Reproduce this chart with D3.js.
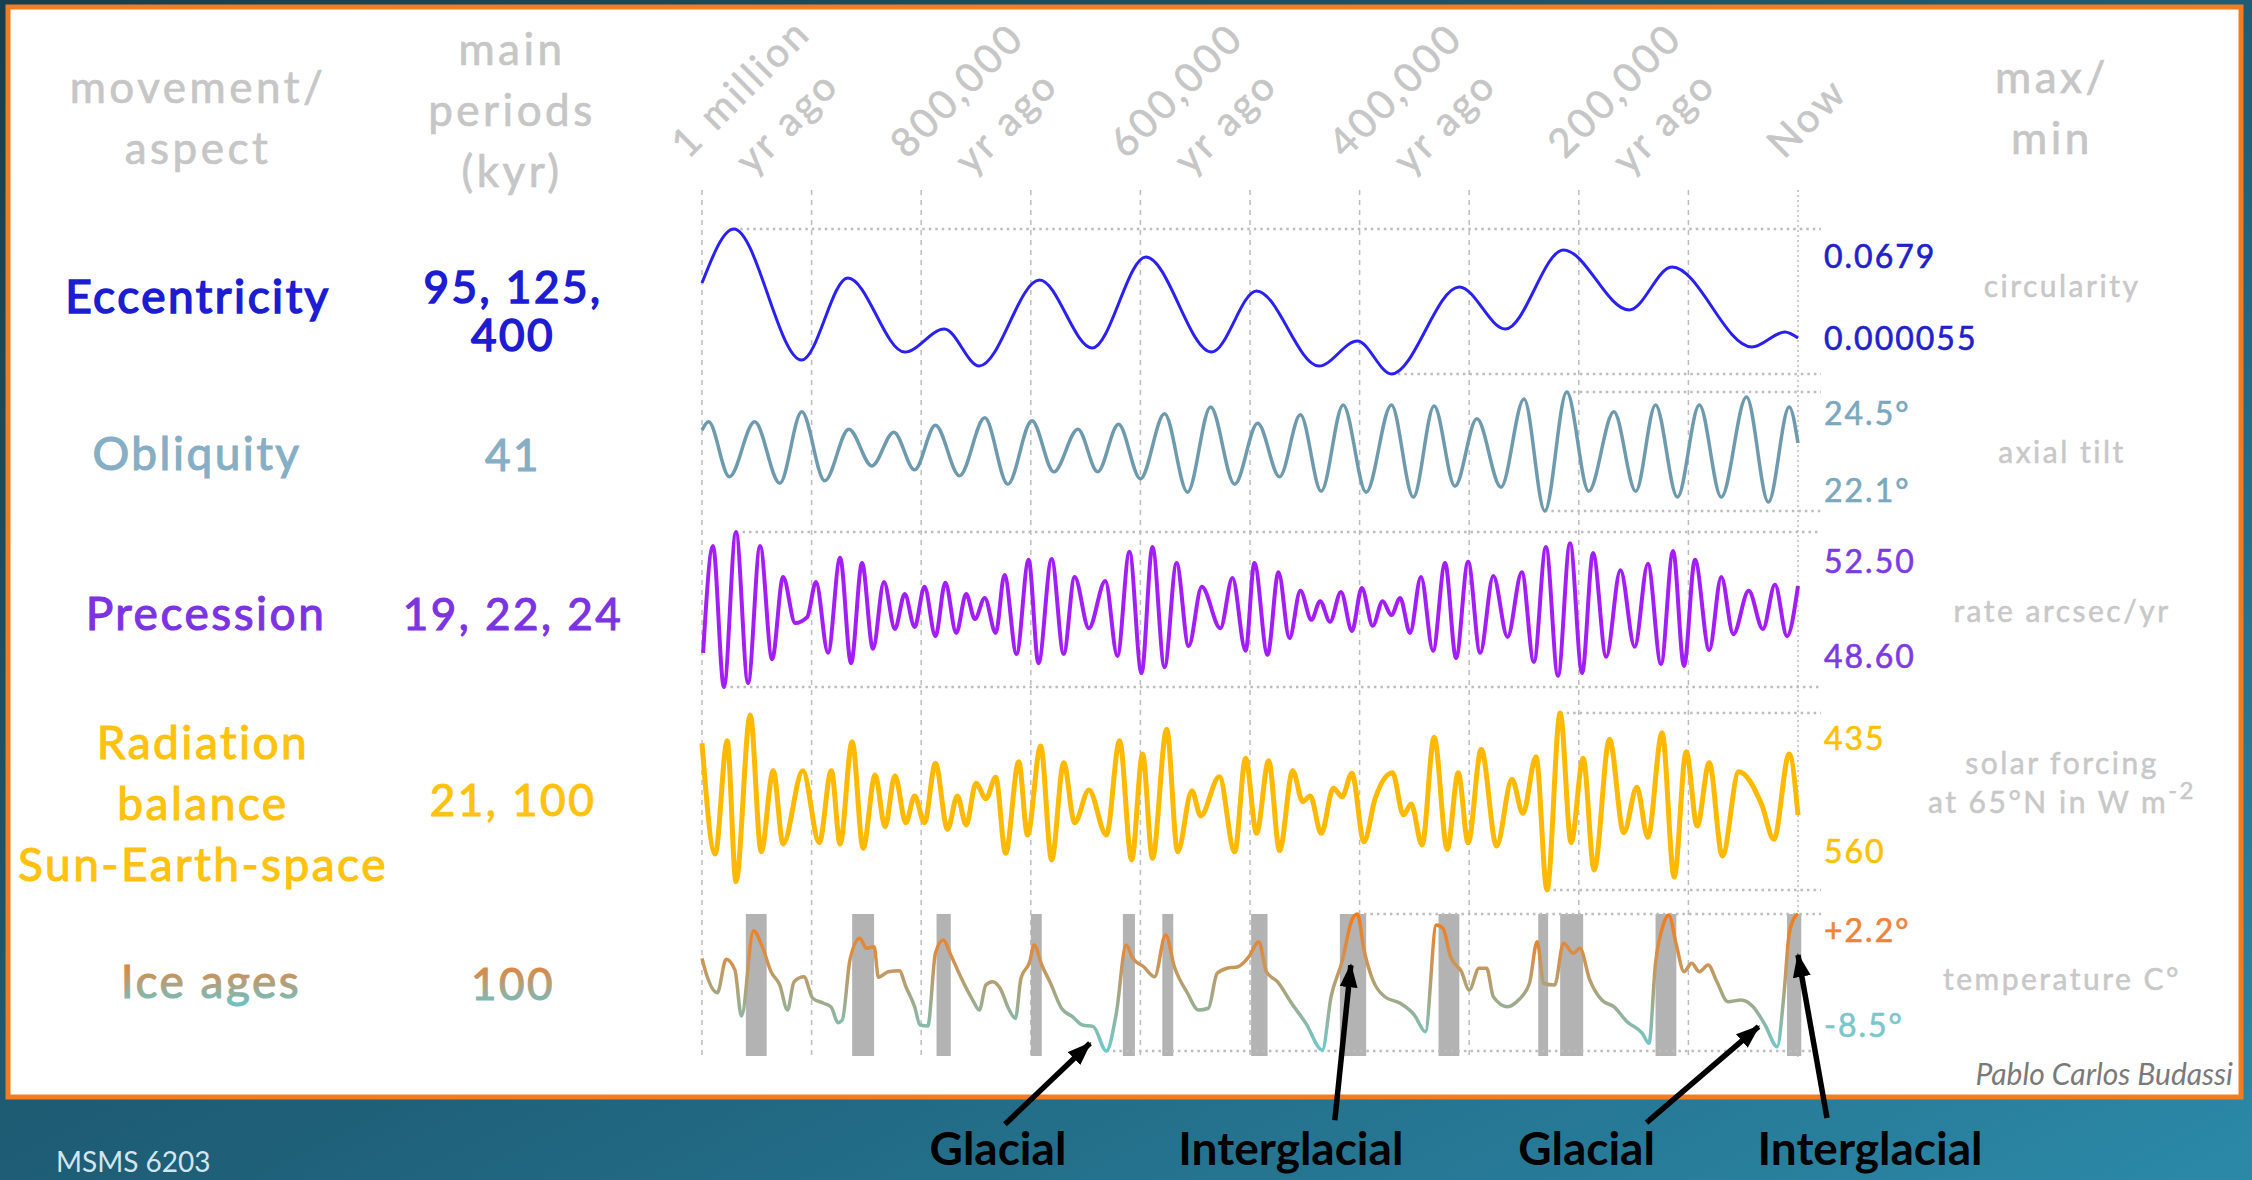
<!DOCTYPE html>
<html>
<head>
<meta charset="utf-8">
<script src="https://cdn.jsdelivr.net/npm/d3@7"></script>
<style>
  html, body { margin: 0; padding: 0; overflow: hidden; background: #1f5b70; }
  svg { display: block; }
  text { font-family: Lato, "Open Sans", sans-serif; }
</style>
</head>
<body>
<svg id="chart" width="2252" height="1180"></svg>
<script>
// ---- data (ages in kyr before present) ----
const timeLabelAges = [1000, 800, 600, 400, 200, 0];
const timeLabels = [["1 million", "yr ago"], ["800,000", "yr ago"], ["600,000", "yr ago"], ["400,000", "yr ago"], ["200,000", "yr ago"], ["Now"]];

const rowNames = [["Eccentricity"], ["Obliquity"], ["Precession"], ["Radiation", "balance", "Sun-Earth-space"], ["Ice ages"]];
const rowPeriods = [["95, 125,", "400"], ["41"], ["19, 22, 24"], ["21, 100"], ["100"]];
const rowMaxLabels = ["0.0679", "24.5°", "52.50", "435", "+2.2°"];
const rowMinLabels = ["0.000055", "22.1°", "48.60", "560", "-8.5°"];
const rowUnits = [["circularity"], ["axial tilt"], ["rate arcsec/yr"], ["solar forcing", "at 65°N in W m"], ["temperature C°"]];

const eccAge = [1000, 971, 909, 867, 815, 779, 747, 692, 644, 595, 535, 494, 437, 402, 371, 309, 267, 214, 154, 115, 42, 12, 0];
const eccValue = [0.0426, 0.0679, 0.0066, 0.0450, 0.0103, 0.0211, 0.0038, 0.0440, 0.0122, 0.0548, 0.0103, 0.0389, 0.0038, 0.0155, 0.000055, 0.0408, 0.0211, 0.0581, 0.0300, 0.0501, 0.0127, 0.0197, 0.0169];

const oblAge = [1000, 994, 975, 952, 929, 909, 888, 866, 845, 825, 806, 787, 765, 742, 721, 699, 679, 657, 639, 620,
  600, 578, 557, 536, 514, 493, 473, 454, 435, 415, 394, 371, 351, 332, 313, 293, 271, 250, 231, 211,
  191, 168, 148, 130, 110, 90, 70, 47, 27, 8, 0];
const oblValue = [23.73, 23.90, 22.79, 23.90, 22.66, 24.10, 22.71, 23.75, 23.01, 23.69, 22.93, 23.83, 22.81, 23.98, 22.64, 23.92, 22.89, 23.75, 22.89, 23.85,
  22.75, 24.06, 22.48, 24.20, 22.64, 23.87, 22.79, 24.04, 22.50, 24.24, 22.48, 24.24, 22.38, 24.22, 22.60, 23.96, 22.58, 24.36, 22.10, 24.50,
  22.50, 24.10, 22.50, 24.24, 22.38, 24.24, 22.38, 24.40, 22.28, 24.20, 23.47];

const precAge = [999, 990, 980, 969, 958, 947, 936, 926, 915, 904, 896, 885, 874, 864, 854, 844, 834, 824, 815, 806,
  797, 787, 778, 768, 759, 751, 742, 732, 724, 713, 702, 693, 681, 670, 660, 647, 632, 621, 610, 599,
  589, 578, 567, 556, 544, 527, 516, 504, 496, 484, 474, 464, 454, 444, 436, 427, 417, 407, 398, 388,
  379, 371, 363, 354, 344, 333, 322, 312, 301, 290, 278, 265, 252, 241, 230, 219, 208, 197, 187, 175,
  162, 149, 137, 125, 114, 104, 94, 81, 70, 59, 45, 32, 21, 10, 0];
const precValue = [49.46, 52.15, 48.60, 52.50, 48.70, 52.15, 49.30, 51.37, 50.21, 50.36, 51.24, 49.46, 51.85, 49.20, 51.72, 49.56, 51.24, 50.06, 50.94, 50.11,
  51.12, 49.88, 51.22, 49.96, 50.94, 50.31, 50.84, 49.96, 51.42, 49.43, 51.80, 49.20, 51.82, 49.43, 51.37, 50.08, 51.27, 49.38, 52.00, 48.95,
  52.12, 49.10, 51.72, 49.63, 51.12, 50.08, 51.34, 49.51, 51.72, 49.41, 51.49, 49.83, 51.02, 50.29, 50.76, 50.24, 50.99, 50.01, 51.09, 50.14,
  50.76, 50.41, 50.84, 49.96, 51.37, 49.51, 51.72, 49.33, 51.75, 49.46, 51.39, 49.86, 51.49, 49.23, 52.12, 48.88, 52.22, 48.95, 51.97, 49.36,
  51.54, 49.61, 51.70, 49.18, 52.02, 49.13, 51.80, 49.53, 51.37, 49.93, 51.02, 50.06, 51.17, 49.88, 51.14];

const radAge = [1000, 988, 977, 969, 956, 946, 935, 926, 908, 893, 882, 874, 863, 853, 842, 833, 824, 814, 806, 797,
  787, 776, 767, 759, 750, 741, 732, 723, 711, 703, 691, 681, 670, 660, 647, 631, 619, 608, 598, 589,
  576, 566, 553, 545, 528, 514, 504, 494, 483, 473, 461, 452, 445, 435, 424, 416, 407, 396, 386, 370,
  360, 353, 343, 332, 320, 310, 301, 289, 275, 261, 251, 239, 229, 217, 207, 196, 186, 172, 159, 147,
  137, 124, 113, 102, 92, 81, 69, 54, 33, 22, 8, 0];
const radValue = [456.4, 534.6, 454.6, 554.1, 436.4, 533.0, 475.7, 527.5, 475.7, 526.6, 475.7, 527.5, 455.3, 530.5, 478.8, 515.3, 479.3, 512.5, 493.6, 512.5,
  470.5, 517.1, 493.6, 514.1, 484.6, 495.5, 480.4, 534.1, 469.4, 521.2, 458.3, 538.8, 470.1, 512.5, 489.4, 521.2, 454.6, 538.8, 464.0, 537.6,
  446.5, 533.0, 489.9, 507.7, 480.0, 533.0, 467.0, 520.0, 468.7, 532.2, 475.7, 497.6, 493.6, 520.0, 488.2, 494.1, 477.6, 525.9, 495.9, 477.2,
  507.0, 499.3, 528.2, 452.2, 531.3, 477.2, 526.6, 460.6, 528.9, 481.8, 505.8, 465.9, 560.0, 435.0, 526.6, 467.0, 545.9, 453.6, 519.5, 487.5,
  522.8, 448.9, 551.0, 462.3, 514.8, 470.1, 536.0, 476.5, 500.0, 524.2, 464.0, 507.0];

const tempAge = [1000, 998, 986, 978, 970, 964, 953, 945, 937, 929, 922, 916, 907, 899, 889, 882, 876, 872, 865, 856,
  850, 843, 839, 830, 820, 814, 806, 801, 794, 787, 780, 773, 764, 753, 747, 741, 735, 728, 720, 714,
  709, 701, 697, 690, 682, 672, 662, 653, 643, 631, 622, 613, 607, 597, 587, 577, 569, 557, 547, 538,
  530, 521, 511, 501, 492, 485, 475, 462, 449, 434, 426, 416, 407, 402, 396, 388, 377, 363, 350, 340,
  330, 324, 317, 307, 300, 291, 284, 278, 265, 255, 245, 238, 232, 222, 214, 205, 199, 190, 179, 168,
  156, 142, 136, 130, 123, 118, 111, 104, 97, 90, 82, 74, 64, 52, 41, 30, 19, 13, 8, 2, 0];
const tempValue = [-1.26, -1.92, -3.95, -1.34, -2.17, -5.77, 0.90, -0.35, -2.31, -3.35, -5.30, -3.09, -2.70, -4.38, -4.77, -5.09, -6.29, -6.08, -1.39, 0.30,
  -0.48, -0.35, -2.74, -2.31, -2.23, -3.48, -5.04, -6.47, -6.55, -0.87, 0.17, -1.00, -2.70, -4.52, -5.30, -3.35, -3.09, -3.60, -5.24, -5.95,
  -2.82, -1.53, -0.22, -1.78, -3.21, -5.16, -5.82, -6.47, -6.60, -8.50, -5.56, -0.22, -1.26, -1.92, -2.70, 0.56, -1.92, -3.99, -5.30, -5.16,
  -2.43, -2.04, -1.92, -1.13, 0.04, -2.31, -3.09, -4.77, -6.34, -8.42, -4.26, -1.53, 1.73, 2.20, -0.61, -2.95, -4.26, -4.77, -5.69, -6.99,
  1.34, 1.08, -1.13, -2.31, -3.74, -2.04, -2.04, -4.26, -5.04, -4.52, -3.21, 0.04, -3.21, -3.35, -0.09, -0.87, -0.48, -2.95, -4.52, -5.04,
  -6.21, -7.12, -7.90, -1.65, 1.34, 2.12, -0.22, -2.31, -1.65, -2.31, -1.78, -3.09, -4.65, -4.52, -5.04, -6.47, -8.16, -4.26, 0.69, 2.07, 2.20];

const interglacialStart = [960, 863, 786, 700, 616, 580, 499, 418, 328, 237, 217, 130, 10];
const interglacialEnd = [941, 843, 773, 690, 605, 570, 484, 394, 309, 228, 196, 111, -3];

const noteLabels = ["Glacial", "Interglacial", "Glacial", "Interglacial"];
const noteAge = [646, 408, 36, 0];
const noteTemp = [-7.9, -1.8, -6.6, -1.0];

// ---- layout ----
const width = 2252;
const height = 1180;
const plotLeft = 702;
const plotRight = 1798;
const refEnd = 1821;

const svg = d3.select("#chart");
const defs = svg.append("defs");

const bg = defs.append("linearGradient").attr("id", "bg")
  .attr("x1", 0).attr("y1", 0).attr("x2", 1).attr("y2", 1);
bg.append("stop").attr("offset", 0).attr("stop-color", "#163f4f");
bg.append("stop").attr("offset", 0.55).attr("stop-color", "#1f6079");
bg.append("stop").attr("offset", 1).attr("stop-color", "#2b89a8");

const tempGrad = defs.append("linearGradient").attr("id", "tempGrad")
  .attr("gradientUnits", "userSpaceOnUse")
  .attr("x1", 0).attr("y1", 914).attr("x2", 0).attr("y2", 1052);
[[0, "#f57a16"], [0.3, "#d88f48"], [0.55, "#aaa47c"], [1, "#6ccbcf"]].forEach(([o, c]) =>
  tempGrad.append("stop").attr("offset", o).attr("stop-color", c));

const textGrad = defs.append("linearGradient").attr("id", "textGrad")
  .attr("x1", 0).attr("y1", 0).attr("x2", 0).attr("y2", 1);
[[0, "#f27820"], [0.5, "#b89c74"], [1, "#62c6d2"]].forEach(([o, c]) =>
  textGrad.append("stop").attr("offset", o).attr("stop-color", c));

const arrowHead = defs.append("marker").attr("id", "arrow")
  .attr("markerUnits", "userSpaceOnUse")
  .attr("viewBox", "0 0 24 18").attr("refX", 22).attr("refY", 9)
  .attr("markerWidth", 24).attr("markerHeight", 18).attr("orient", "auto");
arrowHead.append("path").attr("d", "M0,0 L24,9 L0,18 Z").attr("fill", "#000");

svg.append("rect").attr("width", width).attr("height", height).attr("fill", "url(#bg)");
svg.append("rect")
  .attr("x", 8).attr("y", 7).attr("width", 2233).attr("height", 1090)
  .attr("fill", "#ffffff").attr("stroke", "#f47c20").attr("stroke-width", 5);

const x = d3.scaleLinear().domain([1000, 0]).range([plotLeft, plotRight]);

// vertical grid every 100 kyr
svg.append("g")
  .selectAll("line")
  .data(x.ticks(10))
  .join("line")
  .attr("x1", (d) => x(d)).attr("x2", (d) => x(d))
  .attr("y1", 190).attr("y2", 1060)
  .attr("stroke", "#bdbdbd").attr("stroke-width", 1.5)
  .attr("stroke-dasharray", (d) => (d === 0 ? "2,3" : "5,5"));

// medium-weight look for the geometric sans labels
const medium = (sel, color, w) => sel.attr("stroke", color).attr("stroke-width", w);

// rotated time labels
timeLabelAges.forEach((age, i) => {
  const t = svg.append("text")
    .attr("transform", `translate(${x(age) - 14},160) rotate(-45)`)
    .attr("font-size", 40).attr("letter-spacing", 3).attr("fill", "#c6c6c6");
  medium(t, "#c6c6c6", 0.6);
  timeLabels[i].forEach((line, j) => {
    t.append("tspan").attr("x", j * 34).attr("y", j * 57).text(line);
  });
});

// column headers
const header = (lines, cx, y0) => {
  lines.forEach((line, j) => {
    const t = svg.append("text").attr("x", cx).attr("y", y0 + j * 61)
      .attr("text-anchor", "middle").attr("font-size", 44)
      .attr("letter-spacing", 3.5).attr("fill", "#c6c6c6").text(line);
    medium(t, "#c6c6c6", 0.7);
  });
};
header(["movement/", "aspect"], 198, 103);
header(["main", "periods", "(kyr)"], 512, 65);
header(["max/", "min"], 2052, 93);

// row styling
const rowBand = [[229, 374], [392, 511], [532, 687], [713, 890], [914, 1051]];
const rowTextColor = ["#1c1cd2", "#86aec4", "#7c34e2", "#ffc20e", "url(#textGrad)"];
const rowMaxColor = ["#2020cc", "#7aa8be", "#7d3ae4", "#ffc000", "#f0823a"];
const rowMinColor = ["#2020cc", "#7aa8be", "#7d3ae4", "#ffc000", "#7cc6cb"];
const nameX = [198, 197, 206, 203, 211];
const nameY = [313, 470, 630, 759, 998];
const periodY = [303, 471, 630, 816, 1000];
const maxY = [268, 425, 573, 750, 942];
const minY = [350, 502, 668, 863, 1037];
const unitY = [297, 463, 622, 774, 990];

rowNames.forEach((lines, i) => {
  lines.forEach((line, j) => {
    const t = svg.append("text").attr("x", nameX[i]).attr("y", nameY[i] + j * 61)
      .attr("text-anchor", "middle").attr("font-size", 46)
      .attr("letter-spacing", 2.5).attr("fill", rowTextColor[i]).text(line);
    medium(t, rowTextColor[i], i === 0 ? 1.6 : 1.1);
  });
  rowPeriods[i].forEach((line, j) => {
    const t = svg.append("text").attr("x", 513).attr("y", periodY[i] + j * 48)
      .attr("text-anchor", "middle").attr("font-size", 44)
      .attr("letter-spacing", 2.5).attr("fill", rowTextColor[i]).text(line);
    medium(t, rowTextColor[i], i === 0 ? 1.6 : 1.1);
  });
  svg.append("text").attr("x", 1824).attr("y", maxY[i])
    .attr("font-size", 32).attr("letter-spacing", 2).attr("fill", rowMaxColor[i])
    .call(medium, rowMaxColor[i], 0.6).text(rowMaxLabels[i]);
  svg.append("text").attr("x", 1824).attr("y", minY[i])
    .attr("font-size", 32).attr("letter-spacing", 2).attr("fill", rowMinColor[i])
    .call(medium, rowMinColor[i], 0.6).text(rowMinLabels[i]);
  rowUnits[i].forEach((line, j) => {
    const t = svg.append("text").attr("x", 2062).attr("y", unitY[i] + j * 39)
      .attr("text-anchor", "middle").attr("font-size", 30)
      .attr("letter-spacing", 2.5).attr("fill", "#c8c8c8").text(line);
    medium(t, "#c8c8c8", 0.5);
    if (i === 3 && j === 1) {
      t.append("tspan").attr("dy", -14).attr("font-size", 24).text("-2");
    }
  });
});

// interglacial shading under the temperature curve
const iceY = rowBand[4];
svg.append("g")
  .selectAll("rect")
  .data(interglacialStart)
  .join("rect")
  .attr("x", (d) => x(d))
  .attr("width", (d, i) => x(interglacialEnd[i]) - x(d))
  .attr("y", iceY[0]).attr("height", 1056 - iceY[0])
  .attr("fill", "#b3b3b3");

const drawSeries = (ages, values, domain, band, stroke, strokeWidth) => {
  const y = d3.scaleLinear().domain(domain).range(band);
  const pts = ages.map((a, i) => [x(a), y(values[i])]);
  const ys = pts.map((p) => p[1]);
  [d3.minIndex(ys), d3.maxIndex(ys)].forEach((k) => {
    svg.append("line")
      .attr("x1", pts[k][0]).attr("x2", refEnd)
      .attr("y1", ys[k]).attr("y2", ys[k])
      .attr("stroke", "#bdbdbd").attr("stroke-width", 2.5)
      .attr("stroke-dasharray", "2.5,4");
  });
  svg.append("path")
    .datum(pts)
    .attr("d", d3.line().curve(d3.curveMonotoneX))
    .attr("fill", "none")
    .attr("stroke", stroke)
    .attr("stroke-width", strokeWidth)
    .attr("stroke-linejoin", "round");
  return y;
};

drawSeries(eccAge, eccValue, [0.0679, 0.000055], rowBand[0], "#2a20f2", 3);
drawSeries(oblAge, oblValue, [24.5, 22.1], rowBand[1], "#6d9bad", 3.5);
drawSeries(precAge, precValue, [52.5, 48.6], rowBand[2], "#a31ef6", 4);
drawSeries(radAge, radValue, [435, 560], rowBand[3], "#ffb900", 5);
const yTemp = drawSeries(tempAge, tempValue, [2.2, -8.5], rowBand[4], "url(#tempGrad)", 3.5);

// glacial / interglacial call-outs
const tailDx = [-85, -16, -112, 29];
const tailDy = [81, 155, 96, 163];
const labelDx = [-92, -60, -172, 72];
noteLabels.forEach((label, i) => {
  const tipX = x(noteAge[i]);
  const tipY = yTemp(noteTemp[i]);
  svg.append("line")
    .attr("x1", tipX + tailDx[i]).attr("y1", tipY + tailDy[i])
    .attr("x2", tipX).attr("y2", tipY)
    .attr("stroke", "#000").attr("stroke-width", 5.5)
    .attr("marker-end", "url(#arrow)");
  svg.append("text")
    .attr("x", tipX + labelDx[i]).attr("y", 1165)
    .attr("text-anchor", "middle")
    .attr("font-family", "'Open Sans', 'Noto Sans', sans-serif")
    .attr("font-weight", 700).attr("font-size", 46)
    .attr("fill", "#000").text(label);
});

svg.append("text").attr("x", 2233).attr("y", 1085)
  .attr("text-anchor", "end")
  .attr("font-family", "'Open Sans', sans-serif")
  .attr("font-style", "italic").attr("font-size", 30)
  .attr("fill", "#7a7a7a").text("Pablo Carlos Budassi");

svg.append("text").attr("x", 56).attr("y", 1172)
  .attr("font-size", 28).attr("fill", "#d3e6ee").text("MSMS 6203");
</script>
</body>
</html>
